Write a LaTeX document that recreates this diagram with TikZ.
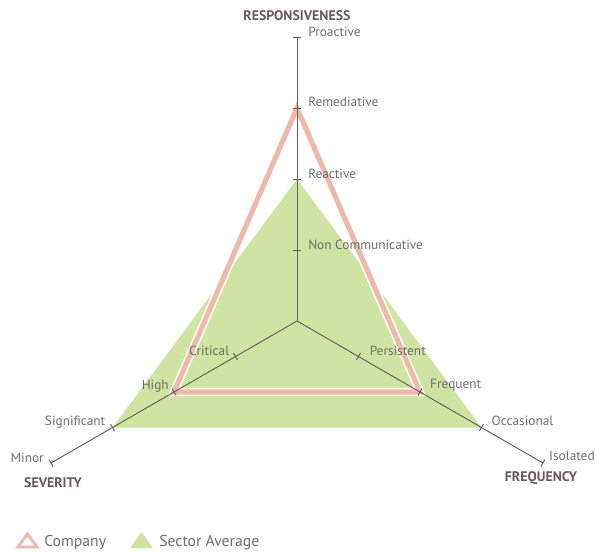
\documentclass[tikz,border=0pt]{standalone}
\usepackage{fontspec}
\setmainfont{PT Sans}
\definecolor{sectorgreen}{HTML}{CFE3A3}
\definecolor{companypink}{HTML}{EFB8A8}
\definecolor{axisgray}{HTML}{5E5E5E}
\definecolor{labelgray}{HTML}{6E6E6E}
\definecolor{titlegray}{HTML}{6A5A55}
\tikzset{
  axisline/.style={draw=axisgray, line width=0.7pt},
  tickmark/.style={draw=axisgray, line width=0.7pt},
  lbl/.style={text=labelgray, font=\fontsize{10}{11}\selectfont, inner sep=0pt},
  ttl/.style={text=titlegray, font=\fontsize{10.4}{11}\selectfont\bfseries, inner sep=0pt},
  leg/.style={text=labelgray, font=\fontsize{11.8}{13}\selectfont, inner sep=0pt, anchor=west},
}
\begin{document}
\begin{tikzpicture}[x=0.75pt,y=0.75pt]
\useasboundingbox (-297,-230) rectangle (300,321);
% axis level coordinates
\coordinate (c) at (0,0);
\foreach \k in {1,2,3,4}{
  \coordinate (r\k) at (90:{\k*71});
  \coordinate (f\k) at (-30:{\k*71});
  \coordinate (s\k) at (210:{\k*71});
}
% sector average
\fill[sectorgreen] (r2) -- (f3) -- (s3) -- cycle;
% company
\draw[white, line width=6.2pt, line join=miter] (r3) -- (f2) -- (s2) -- cycle;
\draw[companypink, line width=3.8pt, line join=miter] (r3) -- (f2) -- (s2) -- cycle;
% axes
\draw[axisline] (c) -- (r4);
\draw[axisline] (c) -- (f4);
\draw[axisline] (c) -- (s4);
% ticks
\foreach \k in {1,2,3,4}{
  \draw[tickmark] ([shift={(-4,0)}]r\k) -- ([shift={(4,0)}]r\k);
  \draw[tickmark] ([shift={(60:4)}]f\k) -- ([shift={(240:4)}]f\k);
  \draw[tickmark] ([shift={(120:4)}]s\k) -- ([shift={(300:4)}]s\k);
}
% labels responsiveness
\node[lbl, anchor=west] (lr4) at ([shift={(11,5)}]r4) {Proactive};
\node[lbl, anchor=west] (lr3) at ([shift={(11,6)}]r3) {Remediative};
\node[lbl, anchor=west] (lr2) at ([shift={(11,5)}]r2) {Reactive};
\node[lbl, anchor=west] (lr1) at ([shift={(11,5)}]r1) {Non Communicative};
% labels frequency
\node[lbl, anchor=west] (lf1) at ([shift={(11,6)}]f1) {Persistent};
\node[lbl, anchor=west] (lf2) at ([shift={(10,7)}]f2) {Frequent};
\node[lbl, anchor=west] (lf3) at ([shift={(10,7)}]f3) {Occasional};
\node[lbl, anchor=west] (lf4) at ([shift={(6,7)}]f4) {Isolated};
% labels severity
\node[lbl, anchor=east] (ls1) at ([shift={(-6,6)}]s1) {Critical};
\node[lbl, anchor=east] (ls2) at ([shift={(-5,6)}]s2) {High};
\node[lbl, anchor=east] (ls3) at ([shift={(-7,5)}]s3) {Significant};
\node[lbl, anchor=east] (ls4) at ([shift={(-7,5)}]s4) {Minor};
% titles
\node[ttl] (tr) at (0,305) {RESPONSIVENESS};
\node[ttl] (ts) at (-244,-162) {SEVERITY};
\node[ttl] (tf) at (244,-157) {FREQUENCY};
% legend
\draw[companypink, line width=2.2pt, line join=miter] (-279,-226) -- (-260,-226) -- (-269.5,-213) -- cycle;
\node[leg] (lc) at (-253,-222) {Company};
\fill[sectorgreen] (-167,-227) -- (-144,-227) -- (-155.5,-211) -- cycle;
\node[leg] (lsa) at (-138,-222) {Sector Average};
\end{tikzpicture}
\end{document}
